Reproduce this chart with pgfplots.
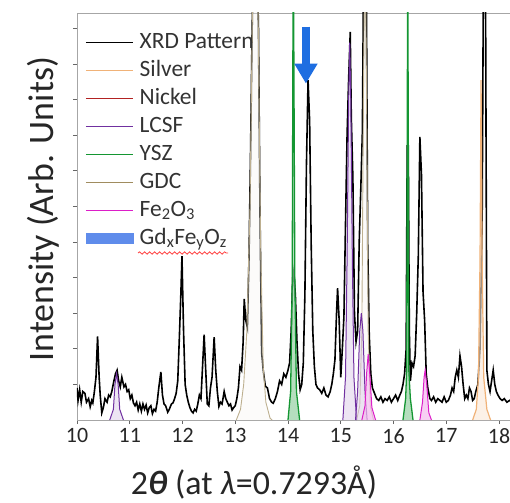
\documentclass[border=0pt]{standalone}
\usepackage{pgfplots}
\pgfplotsset{compat=1.18}
\usepackage{fontspec}
\setmainfont{Carlito}
\usetikzlibrary{arrows.meta,decorations.pathmorphing}
\definecolor{silverc}{RGB}{240,178,120}
\definecolor{nickelc}{RGB}{178,34,34}
\definecolor{lcsfc}{RGB}{112,48,160}
\definecolor{yszc}{RGB}{20,150,50}
\definecolor{gdcc}{RGB}{160,140,95}
\definecolor{fec}{RGB}{220,30,200}
\definecolor{gdfec}{RGB}{95,140,235}
\definecolor{arrowc}{RGB}{30,110,225}
\begin{document}
\begin{tikzpicture}
\useasboundingbox (-77bp,-83bp) rectangle (433bp,420bp);
\begin{axis}[
  at={(0,0)}, anchor=south west,
  scale only axis, width=436bp, height=407bp,
  xmin=10, xmax=18.2654, ymin=0, ymax=11.433,
  xtick={10,...,18}, ytick={1,...,11}, yticklabels={},
  tick pos=left, tick align=outside, major tick length=4bp,
  axis line style={gray!70}, tick style={gray!80!black, line width=0.8bp},
  /pgf/number format/assume math mode=true,
  ticklabel style={font=\fontsize{22}{24}\selectfont, text=black!85},
  xticklabel style={yshift=-1bp},
  xlabel={2{\bfseries\itshape θ} (at \textit{λ}=0.7293Å)},
  ylabel={Intensity (Arb. Units)},
  label style={text=black!85},
  xlabel style={font=\fontsize{34}{38}\selectfont, at={(axis description cs:0.406,-0.153)}, anchor=center},
  ylabel style={font=\fontsize{36}{40}\selectfont, at={(axis description cs:-0.078,0.518)}, anchor=center},
  legend style={at={(axis description cs:0,1)}, anchor=north west, xshift=8bp, yshift=-19bp,
    draw=none, fill=none, inner sep=0pt, font=\fontsize{23.5}{26}\selectfont, text=black!80,
    row sep=7bp, column sep=6bp, nodes={inner sep=0pt, text height=16bp, text depth=5bp}},
  legend cell align=left,
  legend image code/.code={\draw[line width=1.5bp,#1] (0bp,0bp) -- (47bp,0bp);},
]
\addlegendimage{black, line width=1.6bp}\addlegendentry{XRD Pattern}
\addlegendimage{silverc}\addlegendentry{Silver}
\addlegendimage{nickelc}\addlegendentry{Nickel}
\addlegendimage{lcsfc}\addlegendentry{LCSF}
\addlegendimage{yszc}\addlegendentry{YSZ}
\addlegendimage{gdcc}\addlegendentry{GDC}
\addlegendimage{fec}\addlegendentry{Fe\textsubscript{2}O\textsubscript{3}}
\addlegendimage{legend image code/.code={\fill[gdfec] (0bp,-5bp) rectangle (47bp,5bp);}}
\addlegendentry{Gd\textsubscript{x}Fe\textsubscript{y}O\textsubscript{z}}

% XRD pattern
\addplot[black, line width=1.6bp, forget plot] coordinates {
(10.00,0.9) (10.02,0.55) (10.05,0.85) (10.08,0.5) (10.11,0.8) (10.15,0.75) (10.18,0.5)
(10.22,0.6) (10.25,0.37) (10.28,0.55) (10.30,0.48) (10.33,0.8) (10.36,1.2) (10.39,2.35)
(10.42,1.2) (10.44,0.7) (10.47,0.2) (10.50,0.35) (10.53,0.6) (10.57,0.5) (10.60,0.7)
(10.63,0.65) (10.66,0.8) (10.70,1.1) (10.73,1.3) (10.76,1.4) (10.79,1.1) (10.82,0.93)
(10.85,1.2) (10.89,0.93) (10.92,1.0) (10.95,0.8) (10.98,0.85) (11.01,0.6) (11.04,0.7)
(11.07,0.48) (11.10,0.4) (11.13,0.5) (11.16,0.28) (11.19,0.45) (11.22,0.25) (11.25,0.45)
(11.28,0.3) (11.31,0.42) (11.34,0.2) (11.37,0.35) (11.40,0.4) (11.43,0.18) (11.46,0.3)
(11.49,0.25) (11.52,0.5) (11.55,0.9) (11.59,1.35) (11.62,0.7) (11.65,0.45) (11.68,0.4)
(11.72,0.22) (11.75,0.3) (11.79,0.45) (11.82,0.48) (11.85,0.6) (11.88,0.75) (11.91,1.1)
(11.94,2.3) (11.97,3.6) (11.99,4.6) (12.02,2.5) (12.05,1.0) (12.08,0.7) (12.11,0.5)
(12.14,0.35) (12.17,0.25) (12.20,0.2) (12.23,0.3) (12.26,0.25) (12.29,0.45) (12.32,0.7)
(12.35,0.6) (12.38,1.5) (12.41,2.4) (12.44,1.4) (12.47,0.45) (12.50,0.4) (12.53,0.9)
(12.56,1.2) (12.60,2.33) (12.63,1.4) (12.66,0.8) (12.69,0.38) (12.72,0.5) (12.75,0.45)
(12.79,0.8) (12.82,0.6) (12.85,0.5) (12.88,0.4) (12.91,0.45) (12.94,0.28) (12.97,0.35)
(13.00,0.4) (13.03,0.6) (13.06,0.9) (13.09,1.5) (13.12,1.4) (13.15,2.2) (13.17,3.4)
(13.20,2.8) (13.23,2.6) (13.26,4.5) (13.29,7.5) (13.32,11) (13.36,14) (13.40,14)
(13.44,11) (13.47,5.7) (13.50,1.9) (13.53,1.4) (13.57,0.95) (13.61,0.9) (13.65,0.6)
(13.69,0.5) (13.72,0.47) (13.76,0.6) (13.80,0.8) (13.84,1.1) (13.88,1.0) (13.92,1.3)
(13.96,1.2) (14.00,1.4) (14.03,1.6) (14.06,2.5) (14.09,4.0) (14.11,4.2) (14.14,3.5)
(14.17,2.2) (14.20,1.3) (14.23,0.85) (14.26,1.0) (14.29,1.6) (14.32,3.5) (14.35,7.2)
(14.38,9.55) (14.41,8.4) (14.44,4.9) (14.47,2.5) (14.50,1.5) (14.53,1.0) (14.56,0.9)
(14.60,0.85) (14.64,0.75) (14.68,0.9) (14.72,0.7) (14.76,0.65) (14.80,0.8) (14.83,1.0)
(14.86,1.3) (14.89,1.7) (14.92,3.0) (14.94,3.7) (14.97,2.8) (15.00,1.2) (15.03,2.0)
(15.06,2.9) (15.09,5.5) (15.12,8.0) (15.15,9.6) (15.18,10.9) (15.20,8.5) (15.23,6.8)
(15.26,3.0) (15.29,2.2) (15.32,2.5) (15.35,5.0) (15.38,6.5) (15.41,8.1) (15.44,14)
(15.48,14) (15.51,5.0) (15.54,2.4) (15.57,1.3) (15.60,0.9) (15.64,0.75) (15.68,0.6)
(15.72,0.55) (15.76,0.65) (15.80,0.5) (15.84,0.6) (15.88,0.55) (15.92,0.65) (15.96,0.5)
(16.00,0.6) (16.04,0.7) (16.08,0.55) (16.12,0.7) (16.15,0.8) (16.18,1.0) (16.21,1.3)
(16.24,2.0) (16.26,7.7) (16.28,7.7) (16.30,2.5) (16.32,1.1) (16.35,1.6) (16.38,1.5)
(16.41,1.8) (16.44,3.0) (16.47,4.6) (16.50,7.95) (16.53,6.9) (16.56,3.6) (16.59,2.8)
(16.62,1.3) (16.65,0.9) (16.69,0.6) (16.72,0.55) (16.76,0.65) (16.80,0.5) (16.84,0.6)
(16.88,0.55) (16.92,0.5) (16.96,0.65) (17.00,0.5) (17.04,0.55) (17.08,0.7) (17.11,0.9)
(17.14,0.8) (17.17,1.2) (17.20,1.4) (17.23,1.2) (17.26,1.8) (17.29,1.5) (17.32,1.0)
(17.35,0.6) (17.38,0.7) (17.41,0.6) (17.44,0.9) (17.47,0.8) (17.50,0.55) (17.53,0.6)
(17.56,0.8) (17.60,1.0) (17.64,2.0) (17.68,5.5) (17.71,14) (17.74,14) (17.77,1.4)
(17.80,1.0) (17.83,0.8) (17.86,1.1) (17.89,1.4) (17.92,1.0) (17.95,0.8) (17.98,0.7)
(18.02,0.6) (18.06,0.55) (18.10,0.6) (18.15,0.5) (18.20,0.55) (18.26,0.5)
};

% GDC
\addplot[draw=gdcc!70, fill=gdcc!10, fill opacity=0.3, line width=0.9bp, forget plot] coordinates {
(13.02,0) (13.10,0.3) (13.16,1.0) (13.22,2.5) (13.28,6) (13.33,12) (13.38,14) (13.43,12)
(13.48,5) (13.53,1.5) (13.58,0.5) (13.66,0.05) (13.70,0)};
\addplot[draw=gdcc!70, fill=gdcc!10, fill opacity=0.3, line width=0.9bp, forget plot] coordinates {
(15.30,0) (15.36,0.4) (15.40,2.5) (15.43,9) (15.46,14) (15.49,9) (15.52,2.5) (15.56,0.4) (15.62,0)};
% LCSF
\addplot[draw=lcsfc, fill=lcsfc!25, fill opacity=0.5, line width=1bp, forget plot] coordinates {
(10.62,0) (10.69,0.3) (10.72,1.0) (10.75,1.3) (10.78,1.0) (10.81,0.3) (10.88,0)};
\addplot[draw=lcsfc, fill=lcsfc!25, fill opacity=0.5, line width=1bp, forget plot] coordinates {
(15.04,0) (15.09,1.2) (15.12,4.5) (15.15,9) (15.17,10.6) (15.19,9) (15.22,4.5) (15.25,1.2) (15.30,0)};
\addplot[draw=lcsfc, fill=lcsfc!25, fill opacity=0.5, line width=1bp, forget plot] coordinates {
(15.28,0) (15.32,0.8) (15.36,2.5) (15.39,3.0) (15.42,2.5) (15.46,0.8) (15.50,0)};
% Fe2O3
\addplot[draw=fec, fill=fec!30, fill opacity=0.7, line width=1bp, forget plot] coordinates {
(15.40,0) (15.46,0.4) (15.49,1.3) (15.52,1.85) (15.55,1.3) (15.59,0.35) (15.66,0)};
\addplot[draw=fec, fill=fec!30, fill opacity=0.7, line width=1bp, forget plot] coordinates {
(16.50,0) (16.55,0.5) (16.58,1.2) (16.60,1.4) (16.63,1.0) (16.67,0.2) (16.72,0)};
% YSZ
\addplot[draw=yszc, fill=yszc!45, fill opacity=0.7, line width=1.3bp, forget plot] coordinates {
(14.00,0) (14.05,0.8) (14.08,3.9) (14.10,14) (14.13,3.9) (14.16,0.8) (14.22,0)};
\addplot[draw=yszc, fill=yszc!45, fill opacity=0.7, line width=1.3bp, forget plot] coordinates {
(16.18,0) (16.23,0.6) (16.25,1.4) (16.27,14) (16.29,1.4) (16.32,0.6) (16.37,0)};
% Silver
\addplot[draw=silverc, fill=silverc!30, fill opacity=0.6, line width=1.2bp, forget plot] coordinates {
(17.50,0) (17.57,0.3) (17.61,1.2) (17.64,4.5) (17.66,9.55) (17.68,4.5) (17.71,1.2) (17.77,0.3) (17.84,0)};

\draw[-{Triangle[width=22bp,length=20bp]}, line width=8bp, arrowc] (axis cs:14.34,11.05) -- (axis cs:14.34,9.45);
\end{axis}
\draw[red!75, line width=0.8bp, decorate, decoration={snake, amplitude=1.2bp, segment length=5bp}]
  ([xshift=61bp,yshift=-240bp]current axis.north west) -- ++(90bp,0);
\end{tikzpicture}
\end{document}
